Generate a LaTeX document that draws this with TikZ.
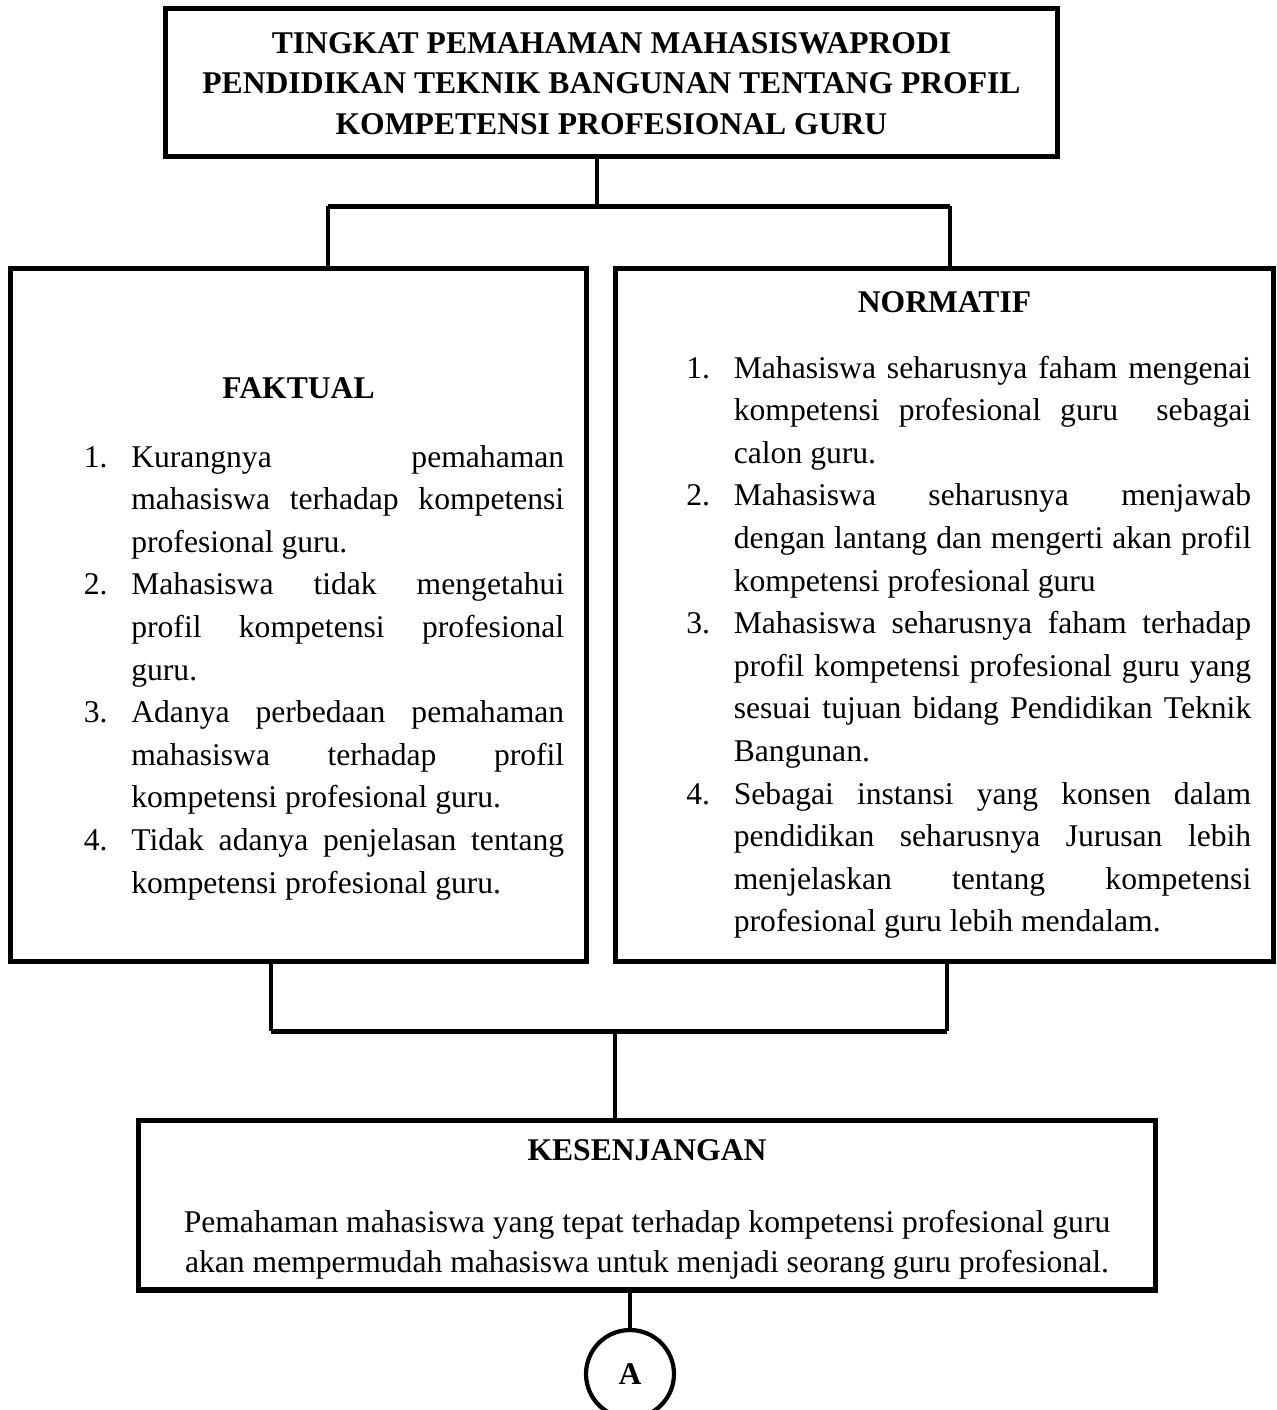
\documentclass[tikz,border=0pt]{standalone}
\usepackage{fontspec}
\setmainfont{Liberation Serif}
\usepackage{tikz}
\usetikzlibrary{positioning,calc}

\newlength{\butirind}
\setlength{\butirind}{0.95cm}
\newcommand{\butir}[2]{\noindent\hangindent=\butirind\hangafter=1\makebox[\butirind][l]{#1}#2\par}
\newcommand{\isi}{\fontsize{18pt}{24.25pt}\selectfont}

\begin{document}
\begin{tikzpicture}[x=0.02cm, y=-0.02cm,
  kotak/.style={draw, line width=2.85pt, inner sep=0pt},
  link/.style={line width=2.2pt},
  bar/.style={line width=2.85pt},
  judulteks/.style={font=\isi\bfseries, inner sep=0pt, anchor=base},
  daftar/.style={font=\isi, align=justify, inner sep=0pt, anchor=base west}]
\useasboundingbox (0,0) rectangle (1277,1410);

% judul
\node[kotak, minimum width=17.86cm, minimum height=2.98cm] (judul) at (611.5,82.5) {};
\node[text width=17cm, align=flush center, inner sep=0pt, anchor=base,
      font=\fontsize{18pt}{23.3pt}\selectfont\bfseries] (judulisi) at (611.5,53)
  {TINGKAT PEMAHAMAN MAHASISWAPRODI\\
   PENDIDIKAN TEKNIK BANGUNAN TENTANG PROFIL\\
   KOMPETENSI PROFESIONAL GURU};

% faktual
\node[kotak, minimum width=11.54cm, minimum height=13.88cm] (faktual) at (298.5,615) {};
\node[judulteks] (faktualjudul) at (298.5,398) {FAKTUAL};
\node[daftar, text width=9.61cm] (faktualisi) at (83.5,467) {%
  \butir{1.}{Kurangnya pemahaman\linebreak mahasiswa terhadap kompetensi\linebreak profesional guru.}
  \butir{2.}{Mahasiswa tidak mengetahui\linebreak profil kompetensi profesional\linebreak guru.}
  \butir{3.}{Adanya perbedaan pemahaman\linebreak mahasiswa terhadap profil\linebreak kompetensi profesional guru.}
  \butir{4.}{Tidak adanya penjelasan tentang\linebreak kompetensi profesional guru.}};

% normatif
\node[kotak, minimum width=13.18cm, minimum height=13.88cm] (normatif) at (944.5,615) {};
\node[judulteks] (normatifjudul) at (944.5,312) {NORMATIF};
\node[daftar, text width=11.3cm] (normatifisi) at (686,378) {%
  \butir{1.}{Mahasiswa seharusnya faham mengenai\linebreak kompetensi profesional guru\ \ sebagai\linebreak calon guru.}
  \butir{2.}{Mahasiswa seharusnya menjawab\linebreak dengan lantang dan mengerti akan profil\linebreak kompetensi profesional guru}
  \butir{3.}{Mahasiswa seharusnya faham terhadap\linebreak profil kompetensi profesional guru yang\linebreak sesuai tujuan bidang Pendidikan Teknik\linebreak Bangunan.}
  \butir{4.}{Sebagai instansi yang konsen dalam\linebreak pendidikan seharusnya Jurusan lebih\linebreak menjelaskan tentang kompetensi\linebreak profesional guru lebih mendalam.}};

% kesenjangan
\node[kotak, minimum width=20.36cm, minimum height=3.4cm] (gap) at (647,1205) {};
\node[judulteks] (gapjudul) at (647,1160) {KESENJANGAN};
\node[text width=19.4cm, align=flush center, inner sep=0pt, anchor=base,
      font=\fontsize{18pt}{22.8pt}\selectfont] (gapisi) at (647,1232)
  {Pemahaman mahasiswa yang tepat terhadap kompetensi profesional guru\\
   akan mempermudah mahasiswa untuk menjadi seorang guru profesional.};

\node[draw, circle, line width=2.4pt, minimum size=1.76cm, inner sep=0pt, font=\isi\bfseries] (A) at (630,1374) {A};

% garis penghubung
\coordinate (tm) at (597,206);
\coordinate (tl) at (328,206);
\coordinate (tr) at (950,206);
\coordinate (bl) at (271,1031);
\coordinate (bm) at (615,1031);
\coordinate (br) at (947,1031);

\draw[link] (judul.south -| tm) -- (tm);
\draw[bar] (tl) -- (tr);
\draw[link] (tl) -- (tl |- faktual.north);
\draw[link] (tr) -- (tr |- normatif.north);
\draw[link] (faktual.south -| bl) -- (bl);
\draw[link] (normatif.south -| br) -- (br);
\draw[bar] (bl) -- (br);
\draw[link] (bm) -- (bm |- gap.north);
\draw[link] (gap.south -| A.north) -- (A.north);
\end{tikzpicture}
\end{document}
